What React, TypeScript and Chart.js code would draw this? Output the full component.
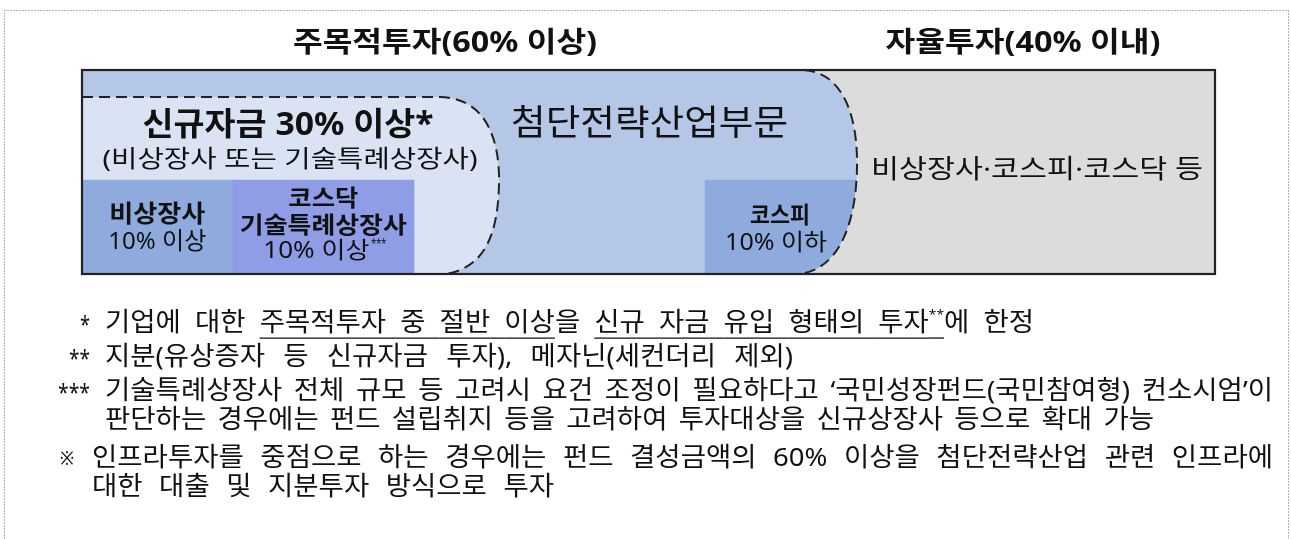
import React, { useEffect, useRef } from 'react';
import { Chart, registerables } from 'chart.js';

Chart.register(...registerables);

const FONT = '"Noto Sans", "Noto Sans CJK KR", sans-serif';

// ---- data ----
const groupTitles = ['주목적투자(60% 이상)', '자율투자(40% 이내)'];
const newFundTitle = '신규자금 30% 이상*';
const newFundSub = '(비상장사 또는 기술특례상장사)';
const strategicLabel = '첨단전략산업부문';
const autonomousLabel = '비상장사·코스피·코스닥 등';
const rowLabels = ['상단', '하단'];
const segmentNames = [['비상장사'], ['코스닥', '기술특례상장사'], ['코스피']];
const segmentShares = ['10% 이상', '10% 이상', '10% 이하'];
const segmentShareMarks = ['', '***', ''];
const segmentRanges: [number, number][] = [[0, 13.3], [13.3, 29.3], [55.0, 68.4]];

type Run = { t: string; u?: boolean; sup?: boolean };
const footnoteMarks = ['*', '**', '***', '※'];
const footnote1: Run[][] = [
  [{ t: '기업에' }],
  [{ t: '대한' }],
  [{ t: '주목적투자', u: true }],
  [{ t: '중', u: true }],
  [{ t: '절반', u: true }],
  [{ t: '이상', u: true }, { t: '을' }],
  [{ t: '신규', u: true }],
  [{ t: '자금', u: true }],
  [{ t: '유입', u: true }],
  [{ t: '형태의', u: true }],
  [{ t: '투자', u: true }, { t: '**', u: true, sup: true }, { t: '에' }],
  [{ t: '한정' }],
];
const footnote2 = ['지분(유상증자 등 신규자금 투자), 메자닌(세컨더리 제외)'];
const footnote3 = [
  '기술특례상장사 전체 규모 등 고려시 요건 조정이 필요하다고 ‘국민성장펀드(국민참여형) 컨소시엄’이',
  '판단하는 경우에는 펀드 설립취지 등을 고려하여 투자대상을 신규상장사 등으로 확대 가능',
];
const footnote4 = [
  '인프라투자를 중점으로 하는 경우에는 펀드 결성금액의 60% 이상을 첨단전략산업 관련 인프라에',
  '대한 대출 및 지분투자 방식으로 투자',
];

// ---- styles ----
const C_LIGHT = '#b4c7e7';
const C_INNER = '#dae3f3';
const C_GRAY = '#dcdcdc';
const segmentColors = ['#8faadc', '#8e9de6', '#8faadc'];

const toRuns = (s: string): Run[][] => s.split(' ').map((w) => [{ t: w }]);

function fitText(
  ctx: CanvasRenderingContext2D,
  text: string,
  x: number,
  y: number,
  size: number,
  weight: number,
  width: number | null,
  align: CanvasTextAlign = 'center'
) {
  ctx.save();
  ctx.font = `${weight} ${size}px ${FONT}`;
  const w = ctx.measureText(text).width;
  const s = width ? width / w : 1;
  ctx.translate(x, y);
  ctx.scale(s, 1);
  ctx.textAlign = align;
  ctx.textBaseline = 'middle';
  ctx.fillStyle = '#111';
  ctx.fillText(text, 0, 0);
  ctx.restore();
}

const FN_SIZE = 26;
const FN_CHAR = 25.3; // target advance of one Hangul syllable

function drawLine(
  ctx: CanvasRenderingContext2D,
  words: Run[][],
  x0: number,
  x1: number,
  y: number
) {
  const size = FN_SIZE;
  const supSize = Math.round(size * 0.5);
  const font = (s: number) => `400 ${s}px ${FONT}`;
  ctx.save();
  ctx.font = font(size);
  const sx = FN_CHAR / ctx.measureText('가').width;
  const widths = words.map((w) =>
    w.map((r) => {
      ctx.font = font(r.sup ? supSize : size);
      return ctx.measureText(r.t).width * sx;
    })
  );
  const total = widths.reduce((a, ws) => a + ws.reduce((p, q) => p + q, 0), 0);
  const gap = words.length > 1 ? (x1 - x0 - total) / (words.length - 1) : 0;
  let x = x0;
  ctx.textAlign = 'left';
  ctx.textBaseline = 'middle';
  ctx.fillStyle = '#111';
  ctx.strokeStyle = '#111';
  ctx.lineWidth = 1.3;
  words.forEach((w, i) => {
    w.forEach((r, j) => {
      ctx.font = font(r.sup ? supSize : size);
      ctx.save();
      ctx.translate(x, r.sup ? y - size * 0.32 : y);
      ctx.scale(sx, 1);
      ctx.fillText(r.t, 0, 0);
      ctx.restore();
      const rw = widths[i][j];
      if (r.u) {
        let end = x + rw;
        const next = words[i + 1];
        if (j === w.length - 1 && next && next[0].u) end += gap;
        ctx.beginPath();
        ctx.moveTo(x, y + size * 0.54);
        ctx.lineTo(end, y + size * 0.54);
        ctx.stroke();
      }
      x += rw;
    });
    x += gap;
  });
  ctx.restore();
}

function outerCurve(ctx: CanvasRenderingContext2D, L: number, T: number, move: boolean) {
  const P = (x: number, y: number): [number, number] => [L + (x - 82), T + (y - 70)];
  const s = P(804, 70);
  if (move) ctx.moveTo(...s);
  else ctx.lineTo(...s);
  ctx.bezierCurveTo(...P(846, 73), ...P(858, 122), ...P(857, 168));
  ctx.bezierCurveTo(...P(856, 218), ...P(842, 268), ...P(800, 274));
}

function innerCurve(ctx: CanvasRenderingContext2D, L: number, T: number) {
  const P = (x: number, y: number): [number, number] => [L + (x - 82), T + (y - 70)];
  ctx.moveTo(...P(82, 97));
  ctx.lineTo(...P(440, 97));
  ctx.bezierCurveTo(...P(488, 98), ...P(500, 143), ...P(499, 184));
  ctx.bezierCurveTo(...P(498, 230), ...P(487, 268), ...P(445, 274));
}

const diagramPlugin = {
  id: 'diagram',
  beforeDatasetsDraw(chart: any) {
    const { ctx, chartArea: a } = chart;
    const L = a.left, T = a.top;
    ctx.save();
    ctx.fillStyle = '#fff';
    ctx.fillRect(0, 0, chart.width, chart.height);
    ctx.fillStyle = C_GRAY;
    ctx.fillRect(a.left, a.top, a.right - a.left, a.bottom - a.top);
    ctx.beginPath();
    ctx.moveTo(a.left, a.top);
    outerCurve(ctx, L, T, false);
    ctx.lineTo(a.left, a.bottom);
    ctx.closePath();
    ctx.fillStyle = C_LIGHT;
    ctx.fill();
    ctx.beginPath();
    innerCurve(ctx, L, T);
    ctx.lineTo(a.left, a.bottom);
    ctx.closePath();
    ctx.fillStyle = C_INNER;
    ctx.fill();
    ctx.restore();
  },
  afterDatasetsDraw(chart: any) {
    const { ctx, chartArea: a, scales } = chart;
    const L = a.left, T = a.top;
    const X = (v: number) => scales.x.getPixelForValue(v);
    ctx.save();
    ctx.beginPath();
    outerCurve(ctx, L, T, true);
    ctx.lineTo(a.right, a.bottom);
    ctx.lineTo(a.right, a.top);
    ctx.closePath();
    ctx.fillStyle = C_GRAY;
    ctx.fill();

    ctx.strokeStyle = '#222';
    ctx.lineWidth = 2;
    ctx.setLineDash([11, 6]);
    ctx.beginPath();
    outerCurve(ctx, L, T, true);
    ctx.stroke();
    ctx.beginPath();
    innerCurve(ctx, L, T);
    ctx.stroke();
    ctx.setLineDash([]);

    ctx.lineWidth = 2.2;
    ctx.strokeStyle = '#222';
    ctx.strokeRect(a.left, a.top, a.right - a.left, a.bottom - a.top);

    ctx.lineWidth = 1;
    ctx.strokeStyle = '#666';
    ctx.setLineDash([1, 2]);
    ctx.strokeRect(4.5, 10.5, 1284, 600);
    ctx.setLineDash([]);

    // titles
    fitText(ctx, groupTitles[0], 445, 44, 28, 700, 304);
    fitText(ctx, groupTitles[1], 1023, 44, 28, 700, 275);

    // region labels
    fitText(ctx, newFundTitle, 288, 126, 32, 700, 291);
    fitText(ctx, newFundSub, 290, 160, 24, 400, 375);
    fitText(ctx, strategicLabel, 511, 125, 35, 400, 277, 'left');
    fitText(ctx, autonomousLabel, 871, 171, 26, 400, 332, 'left');

    // segment labels
    const centers = segmentRanges.map((r) => X((r[0] + r[1]) / 2));
    fitText(ctx, segmentNames[0][0], centers[0], 215, 24, 700, 96);
    fitText(ctx, segmentShares[0], centers[0], 242, 24, 400, 98);
    fitText(ctx, segmentNames[1][0], centers[1], 199, 23, 700, 70);
    fitText(ctx, segmentNames[1][1], centers[1], 226, 23, 700, 167);
    fitText(ctx, segmentShares[1], centers[1] - 60, 251, 23, 400, 106, 'left');
    fitText(ctx, segmentShareMarks[1], centers[1] + 48, 245, 12, 400, 15, 'left');
    fitText(ctx, segmentNames[2][0], centers[2] - 1, 216, 23, 700, 60);
    fitText(ctx, segmentShares[2], centers[2] - 5, 243, 23, 400, 102);

    // footnotes
    fitText(ctx, footnoteMarks[0], 90, 326, 24, 400, 10, 'right');
    drawLine(ctx, footnote1, 105, 1034, 324);
    fitText(ctx, footnoteMarks[1], 90, 360, 24, 400, 21, 'right');
    drawLine(ctx, toRuns(footnote2[0]), 105, 793, 358);
    fitText(ctx, footnoteMarks[2], 90, 394, 24, 400, 32, 'right');
    drawLine(ctx, toRuns(footnote3[0]), 105, 1273, 392);
    drawLine(ctx, toRuns(footnote3[1]), 105, 1154, 421);
    fitText(ctx, footnoteMarks[3], 60, 459, 20, 400, 14, 'left');
    drawLine(ctx, toRuns(footnote4[0]), 92, 1273, 459);
    drawLine(ctx, toRuns(footnote4[1]), 92, 554, 488);
    ctx.restore();
  },
};

export default function App() {
  const ref = useRef<HTMLCanvasElement | null>(null);
  useEffect(() => {
    document.body.style.margin = '0';
    document.body.style.overflow = 'hidden';
    if (!ref.current) return;
    const chart = new Chart(ref.current, {
      type: 'bar',
      data: {
        labels: rowLabels,
        datasets: [
          {
            label: '주목적투자 세부',
            data: segmentRanges.map((r) => ({ x: r, y: rowLabels[1] })) as any,
            backgroundColor: segmentColors,
            borderWidth: 0,
            barThickness: 188,
            clip: 0,
          } as any,
        ],
      },
      options: {
        indexAxis: 'y',
        responsive: false,
        maintainAspectRatio: false,
        devicePixelRatio: 1,
        animation: false,
        layout: { padding: { left: 82, top: 70, right: 76, bottom: 265 } },
        plugins: { legend: { display: false }, tooltip: { enabled: false } },
        scales: {
          x: { type: 'linear', min: 0, max: 100, display: false },
          y: { type: 'category', offset: false, display: false, grid: { display: false } },
        },
      },
      plugins: [diagramPlugin],
    });
    return () => chart.destroy();
  }, []);
  return (
    <div style={{ width: 1291, height: 539 }}>
      <canvas ref={ref} width={1291} height={539} style={{ display: 'block' }} />
    </div>
  );
}
